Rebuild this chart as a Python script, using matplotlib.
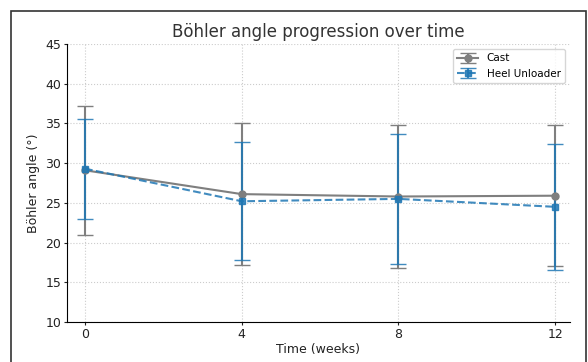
import matplotlib.pyplot as plt

weeks = [0, 4, 8, 12]
cast_mean = [29.1, 26.1, 25.8, 25.9]
cast_err = [8.1, 8.9, 9.0, 8.9]
heel_mean = [29.3, 25.2, 25.5, 24.5]
heel_err = [6.3, 7.4, 8.2, 7.9]

fig = plt.figure(figsize=(5.88, 3.62), dpi=100)
ax = fig.add_axes([67 / 588, 1 - 322 / 362, (570 - 67) / 588, (322 - 44) / 362])

ax.errorbar(weeks, cast_mean, yerr=cast_err, color='#7f7f7f', marker='o', markersize=5,
            linestyle='-', linewidth=1.5, capsize=6, elinewidth=1.5, label='Cast')
ax.errorbar(weeks, heel_mean, yerr=heel_err, color='#1f77b4', marker='s', markersize=5,
            linestyle='--', linewidth=1.5, capsize=6, elinewidth=1.5, alpha=0.85,
            label='Heel Unloader')

ax.set_xlim(-0.46, 12.38)
ax.set_ylim(10, 45)
ax.set_xticks(weeks)
ax.set_yticks(range(10, 46, 5))
ax.grid(True, linestyle=':', color='#cccccc', linewidth=0.8)
ax.set_xlabel('Time (weeks)', fontsize=9, color='#222222', labelpad=2)
ax.set_ylabel('Böhler angle (°)', fontsize=9, color='#222222', labelpad=4)
ax.set_title('Böhler angle progression over time', fontsize=12, color='#333333', pad=5)
for side in ['top', 'right']:
    ax.spines[side].set_visible(False)
ax.tick_params(labelsize=9, colors='#222222', length=2, pad=2)
ax.legend(loc='upper right', fontsize=7.5, frameon=True)

fig.patches.append(plt.Rectangle((11 / 588, -0.05), (586 - 11) / 588, 1.05 - 11 / 362,
                                 transform=fig.transFigure, fill=False,
                                 edgecolor='#333333', linewidth=1.2))
fig.savefig('out.png', dpi=100)
